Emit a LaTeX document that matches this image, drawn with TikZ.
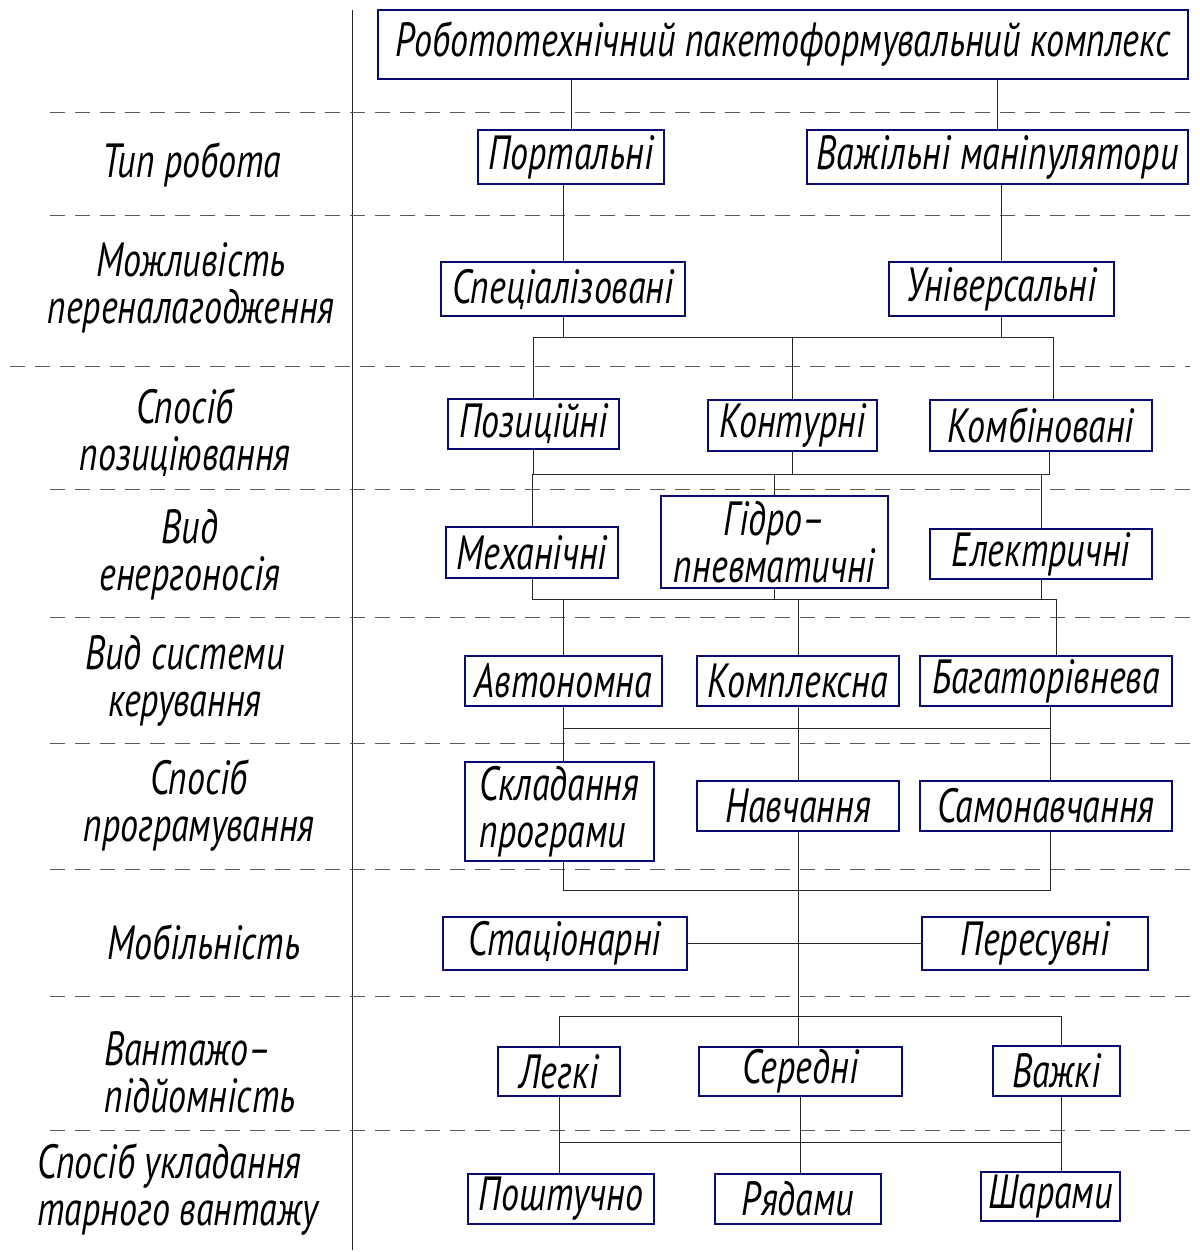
\documentclass[tikz,border=0pt]{standalone}
\usepackage{fontspec}
\setmainfont{PT Sans}[FakeStretch=0.75]
\usepackage{tikz}
\usetikzlibrary{positioning,calc}

\definecolor{boxblue}{RGB}{10,10,115}
\definecolor{sepgray}{RGB}{90,90,90}

\begin{document}
\begin{tikzpicture}[x=1pt, y=-1pt,
		every node/.style={font=\fontsize{48}{47}\selectfont\itshape},
		box/.style={rectangle, draw=boxblue, line width=2.6pt, inner sep=0pt, align=center},
		link/.style={draw=black!85, line width=1pt},
		sep/.style={draw=sepgray, line width=1pt, dash pattern=on 15pt off 10pt},
		lbl/.style={align=center, inner sep=0pt},
		]
		\useasboundingbox (0,0) rectangle (1199,1252);

		% Rows and column separator
		\draw[link] (352,10) -- (352,1250);
		\foreach \y in {113,215,489,617,743,869,996,1130}
			\draw[sep] (50,\y) -- (1190,\y);
		\draw[sep] (10,366) -- (1190,366);

		% Row labels
		\node[lbl] (lrob) at (192,165) {Тип робота};
		\node[lbl] (lper) at (191,288) {Можливість\\переналагодження};
		\node[lbl] (lpoz) at (185,433) {Спосіб\\позиціювання};
		\node[lbl] (lene) at (190,555) {Вид\\енергоносія};
		\node[lbl] (lker) at (185,681) {Вид системи\\керування};
		\node[lbl] (lpro) at (199,806) {Спосіб\\програмування};
		\node[lbl] (lmob) at (204,942) {Мобільність};
		\node[lbl, align=left] (lvan) at (200,1072) {Вантажо–\\підйомність};
		\node[lbl, align=left] (lukl) at (178,1190) {Спосіб укладання\\тарного вантажу};

		% Blocks
		\node[box, minimum width=810, minimum height=69] (kompleks) at (783,44.5) {Робототехнічний пакетоформувальний комплекс};

		\node[box, minimum width=186, minimum height=54] (port) at (571,157) {Портальні};
		\node[box, minimum width=381, minimum height=54] (vazh) at (997.5,157) {Важільні маніпулятори};

		\node[box, minimum width=244, minimum height=54] (spec) at (563,289) {Спеціалізовані};
		\node[box, minimum width=225, minimum height=54] (univ) at (1001.5,289) {Універсальні};

		\node[box, minimum width=171, minimum height=50] (poz) at (533.5,424) {Позиційні};
		\node[box, minimum width=169, minimum height=51] (kont) at (792.5,425.5) {Контурні};
		\node[box, minimum width=222, minimum height=51] (komb) at (1041,425.5) {Комбіновані};

		\node[box, minimum width=172, minimum height=51] (mech) at (532,552.5) {Механічні};
		\node[box, minimum width=227, minimum height=92] (hidro) at (774.5,542) {Гідро–\\пневматичні};
		\node[box, minimum width=222, minimum height=50] (elek) at (1041,554) {Електричні};

		\node[box, minimum width=197, minimum height=50] (avt) at (563.5,681) {Автономна};
		\node[box, minimum width=202, minimum height=50] (kompl) at (798,681) {Комплексна};
		\node[box, minimum width=252, minimum height=50] (bahat) at (1046,681) {Багаторівнева};

		\node[box, minimum width=189, minimum height=99, align=left] (sklad) at (559.5,811.5) {Складання\\програми};
		\node[box, minimum width=202, minimum height=50] (navch) at (798,806) {Навчання};
		\node[box, minimum width=252, minimum height=50] (samon) at (1046,806) {Самонавчання};

		\node[box, minimum width=244, minimum height=53] (stac) at (565,943.5) {Стаціонарні};
		\node[box, minimum width=226, minimum height=53] (peres) at (1035,943.5) {Пересувні};

		\node[box, minimum width=122, minimum height=49] (lehki) at (559,1071.5) {Легкі};
		\node[box, minimum width=203, minimum height=49] (sered) at (800.5,1071.5) {Середні};
		\node[box, minimum width=127, minimum height=50] (vazhki) at (1056.5,1071) {Важкі};

		\node[box, minimum width=186, minimum height=50] (posht) at (561,1199) {Поштучно};
		\node[box, minimum width=166, minimum height=50] (riad) at (798,1199) {Рядами};
		\node[box, minimum width=139, minimum height=49] (shar) at (1050.5,1196.5) {Шарами};

		% Bus levels and off-centre taps
		\coordinate (bus1) at (0,337);
		\coordinate (bus2) at (0,474);
		\coordinate (bus3) at (0,599);
		\coordinate (bus4) at (0,728);
		\coordinate (bus5) at (0,890);
		\coordinate (bus6) at (0,1016);
		\coordinate (bus7) at (0,1142);
		\coordinate (kombtop) at ([xshift=12]komb.north);
		\coordinate (kombbot) at ([xshift=8]komb.south);
		\coordinate (bahattop) at ([xshift=10]bahat.north);
		\coordinate (bahatbot) at ([xshift=4]bahat.south);
		\coordinate (vazhkitop) at ([xshift=4.5]vazhki.north);
		\coordinate (vazhkibot) at ([xshift=4.5]vazhki.south);

		% Connectors
		\draw[link] (port.north) -- (port.north |- kompleks.south);
		\draw[link] (vazh.north) -- (vazh.north |- kompleks.south);
		\draw[link] (spec.north) -- (spec.north |- port.south);
		\draw[link] (univ.north) -- (univ.north |- vazh.south);

		\draw[link] (spec.south) -- (spec.south |- bus1);
		\draw[link] (univ.south) -- (univ.south |- bus1);
		\draw[link] (poz.north) |- (kombtop |- bus1) -- (kombtop);
		\draw[link] (kont.north) -- (kont.north |- bus1);

		\draw[link] (poz.south) |- (kombbot |- bus2) -- (kombbot);
		\draw[link] (kont.south) -- (kont.south |- bus2);
		\draw[link] (mech.north) -- (mech.north |- bus2);
		\draw[link] (hidro.north) -- (hidro.north |- bus2);
		\draw[link] (elek.north) -- (elek.north |- bus2);

		\draw[link] (mech.south) |- (bahattop |- bus3) -- (bahattop);
		\draw[link] (hidro.south) -- (hidro.south |- bus3);
		\draw[link] (elek.south) -- (elek.south |- bus3);
		\draw[link] (avt.north) -- (avt.north |- bus3);
		\draw[link] (kompl.north) -- (kompl.north |- bus3);

		\draw[link] (avt.south) |- (bahatbot |- bus4) -- (bahatbot);
		\draw[link] (kompl.south) -- (navch.north);
		\draw[link] (sklad.north -| avt.south) -- (avt.south |- bus4);
		\draw[link] (samon.north -| bahatbot) -- (bahatbot |- bus4);

		\draw[link] (sklad.south -| avt.south) |- (bahatbot |- bus5) -- (samon.south -| bahatbot);
		\draw[link] (navch.south) -- (navch.south |- sered.north);
		\draw[link] (stac.east) -- (peres.west);

		\draw[link] (lehki.north) |- (vazhkitop |- bus6) -- (vazhkitop);

		\draw[link] (lehki.south) -- (lehki.south |- posht.north);
		\draw[link] (sered.south) -- (sered.south |- riad.north);
		\draw[link] (vazhkibot) -- (vazhkibot |- shar.north);
		\draw[link] (lehki.south |- bus7) -- (vazhkibot |- bus7);
	\end{tikzpicture}
\end{document}
